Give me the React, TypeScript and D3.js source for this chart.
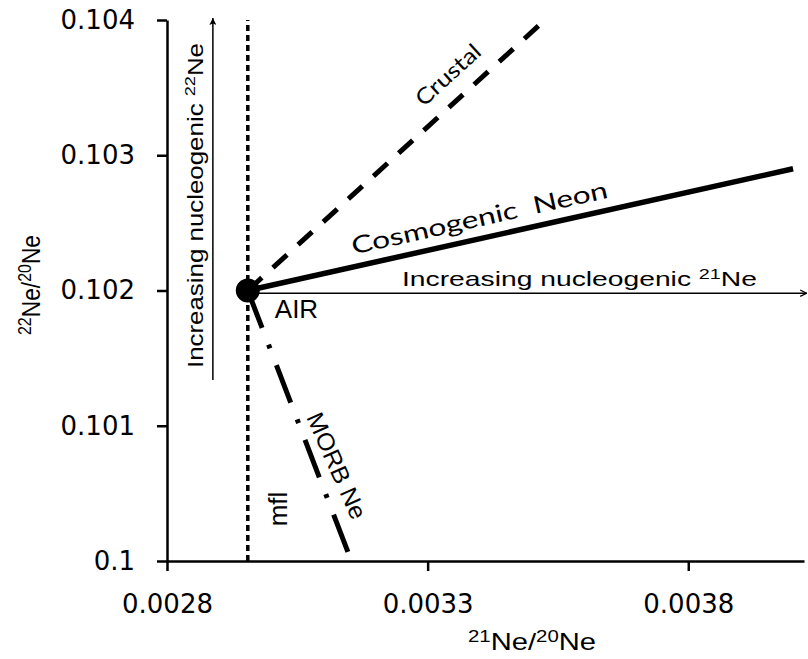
import React, { useEffect, useRef } from 'react';
import * as d3 from 'd3';

const WIDTH = 808;
const HEIGHT = 659;

// axis ticks
const xTicks = [0.0028, 0.0033, 0.0038];
const yTicks = [0.1, 0.101, 0.102, 0.103, 0.104];

// end-member point and mixing lines, in (21Ne/20Ne, 22Ne/20Ne)
const airPoint = [0.002955, 0.102];
const mflLine = [[0.002955, 0.1], [0.002955, 0.104]];
const crustalLine = [[0.002955, 0.102], [0.003525, 0.104]];
const cosmogenicLine = [[0.002955, 0.102], [0.004001, 0.1029]];
const morbLine = [[0.002955, 0.102], [0.003147, 0.100067]];
const ne21Arrow = [[0.002975, 0.10198], [0.004027, 0.10198]];
const ne22Arrow = [[0.002888, 0.101338], [0.002888, 0.104015]];

const SANS = 'Liberation Sans, Arial, sans-serif';

type Part = [string, boolean];

function addText(sel: any, parts: Part[]) {
  parts.forEach(([t, sup], i) => {
    const ts = sel.append('tspan').text(t);
    if (sup) ts.attr('font-size', '0.7em').attr('dy', '-0.5em');
    else if (i > 0 && parts[i - 1][1]) ts.attr('dy', '0.35em');
  });
  return sel;
}

export default function App() {
  const ref = useRef<SVGSVGElement>(null);

  useEffect(() => {
    const svg = d3.select(ref.current);
    svg.selectAll('*').remove();

    const x = d3.scaleLinear().domain([0.0028, 0.004022]).range([167, 804]);
    const y = d3.scaleLinear().domain([0.1, 0.104]).range([561, 20]);
    const line = d3.line<number[]>().x(d => x(d[0])).y(d => y(d[1]));

    const defs = svg.append('defs');
    defs.append('marker')
      .attr('id', 'headUp')
      .attr('viewBox', '0 0 10 10')
      .attr('refX', 10).attr('refY', 5)
      .attr('markerUnits', 'userSpaceOnUse')
      .attr('markerWidth', 11).attr('markerHeight', 7)
      .attr('orient', 'auto')
      .append('path').attr('d', 'M0,0L10,5L0,10L2,5Z').attr('fill', '#000');
    defs.append('marker')
      .attr('id', 'headRight')
      .attr('viewBox', '0 0 10 10')
      .attr('refX', 9).attr('refY', 5)
      .attr('markerUnits', 'userSpaceOnUse')
      .attr('markerWidth', 8).attr('markerHeight', 8)
      .attr('orient', 'auto')
      .append('path').attr('d', 'M1,1L9,5L1,9').attr('fill', 'none')
      .attr('stroke', '#000').attr('stroke-width', 1.6);

    // lines
    svg.append('path').attr('d', line(mflLine))
      .attr('stroke', '#000').attr('stroke-width', 3.5).attr('fill', 'none')
      .attr('stroke-dasharray', '6 4');
    svg.append('path').attr('d', line(crustalLine))
      .attr('stroke', '#000').attr('stroke-width', 5).attr('fill', 'none')
      .attr('stroke-dasharray', '19 15');
    svg.append('path').attr('d', line(cosmogenicLine))
      .attr('stroke', '#000').attr('stroke-width', 5.5).attr('fill', 'none');
    svg.append('path').attr('d', line(morbLine))
      .attr('stroke', '#000').attr('stroke-width', 5).attr('fill', 'none')
      .attr('stroke-dasharray', '40 18 4 18');
    svg.append('path').attr('d', line(ne21Arrow))
      .attr('stroke', '#000').attr('stroke-width', 1.5).attr('fill', 'none')
      .attr('marker-end', 'url(#headRight)');
    svg.append('path').attr('d', line(ne22Arrow))
      .attr('stroke', '#000').attr('stroke-width', 1.5).attr('fill', 'none')
      .attr('marker-end', 'url(#headUp)');

    // axes
    const styleAxis = (g: any, size: number) => {
      g.attr('font-family', 'DejaVu Sans').attr('font-size', size);
      g.select('.domain').attr('stroke', '#000').attr('stroke-width', 2.5);
      g.selectAll('.tick line').attr('stroke', '#000').attr('stroke-width', 2.5);
      g.selectAll('.tick text').attr('fill', '#000');
    };
    svg.append('g')
      .attr('transform', `translate(${x(0.0028)},0)`)
      .call(d3.axisLeft(y).tickValues(yTicks).tickSize(10).tickSizeOuter(0)
        .tickPadding(22).tickFormat(d => String(d)))
      .call(g => styleAxis(g, 26));
    svg.append('g')
      .attr('transform', `translate(0,${y(0.1)})`)
      .call(d3.axisBottom(x).tickValues(xTicks).tickSize(10).tickSizeOuter(0)
        .tickPadding(24).tickFormat(d => String(d)))
      .call(g => styleAxis(g, 26));

    // AIR point
    svg.append('circle')
      .attr('cx', x(airPoint[0])).attr('cy', y(airPoint[1]))
      .attr('r', 12).attr('fill', '#000');

    // labels placed along their lines
    const along = (pts: number[][], t: number, off: number) => {
      const x0 = x(pts[0][0]), y0 = y(pts[0][1]);
      const x1 = x(pts[1][0]), y1 = y(pts[1][1]);
      const len = Math.hypot(x1 - x0, y1 - y0);
      const ux = (x1 - x0) / len, uy = (y1 - y0) / len;
      return {
        px: x0 + (x1 - x0) * t + uy * off,
        py: y0 + (y1 - y0) * t - ux * off,
        angle: (Math.atan2(y1 - y0, x1 - x0) * 180) / Math.PI
      };
    };

    const cos = along(cosmogenicLine, 0.433, 12);
    svg.append('text')
      .attr('transform', `translate(${cos.px},${cos.py}) rotate(${cos.angle})`)
      .attr('text-anchor', 'middle')
      .attr('font-family', 'Lato').attr('font-size', 24)
      .attr('textLength', 262).attr('lengthAdjust', 'spacingAndGlyphs')
      .attr('xml:space', 'preserve')
      .text('Cosmogenic  Neon');

    const cru = along(crustalLine, 0.73, 17);
    svg.append('text')
      .attr('transform', `translate(${cru.px},${cru.py}) rotate(${cru.angle})`)
      .attr('text-anchor', 'middle')
      .attr('font-family', 'Lato').attr('font-size', 22)
      .attr('textLength', 80).attr('lengthAdjust', 'spacingAndGlyphs')
      .text('Crustal');

    const mo = along(morbLine, 0.7, 12);
    svg.append('text')
      .attr('transform', `translate(${mo.px},${mo.py}) rotate(${mo.angle - 3})`)
      .attr('text-anchor', 'middle')
      .attr('font-family', SANS).attr('font-size', 24)
      .attr('textLength', 114).attr('lengthAdjust', 'spacingAndGlyphs')
      .text('MORB Ne');

    svg.append('text')
      .attr('x', x(airPoint[0]) + 27).attr('y', y(airPoint[1]) + 27)
      .attr('font-family', SANS).attr('font-size', 26)
      .text('AIR');

    svg.append('text')
      .attr('transform', `translate(${x(mflLine[0][0]) + 39},${y(0.1) - 52}) rotate(-90)`)
      .attr('text-anchor', 'middle')
      .attr('font-family', SANS).attr('font-size', 26)
      .text('mfl');

    addText(
      svg.append('text')
        .attr('x', 402).attr('y', y(ne21Arrow[0][1]) - 7)
        .attr('font-family', SANS).attr('font-size', 21)
        .attr('textLength', 355).attr('lengthAdjust', 'spacingAndGlyphs'),
      [['Increasing nucleogenic ', false], ['21', true], ['Ne', false]]
    );

    addText(
      svg.append('text')
        .attr('transform', `translate(${x(ne22Arrow[0][0]) - 10},${y(ne22Arrow[0][1]) - 12}) rotate(-90)`)
        .attr('font-family', SANS).attr('font-size', 22)
        .attr('textLength', 325).attr('lengthAdjust', 'spacingAndGlyphs'),
      [['Increasing nucleogenic ', false], ['22', true], ['Ne', false]]
    );

    // axis titles
    addText(
      svg.append('text')
        .attr('x', 532).attr('y', 650)
        .attr('text-anchor', 'middle')
        .attr('font-family', SANS).attr('font-size', 24)
        .attr('textLength', 128).attr('lengthAdjust', 'spacingAndGlyphs'),
      [['21', true], ['Ne/', false], ['20', true], ['Ne', false]]
    );
    addText(
      svg.append('text')
        .attr('transform', 'translate(40,285) rotate(-90)')
        .attr('text-anchor', 'middle')
        .attr('font-family', SANS).attr('font-size', 25)
        .attr('textLength', 100).attr('lengthAdjust', 'spacingAndGlyphs'),
      [['22', true], ['Ne/', false], ['20', true], ['Ne', false]]
    );
  }, []);

  return (
    <svg
      ref={ref}
      width={WIDTH}
      height={HEIGHT}
      style={{ position: 'absolute', left: 0, top: 0, background: '#fff' }}
    />
  );
}
